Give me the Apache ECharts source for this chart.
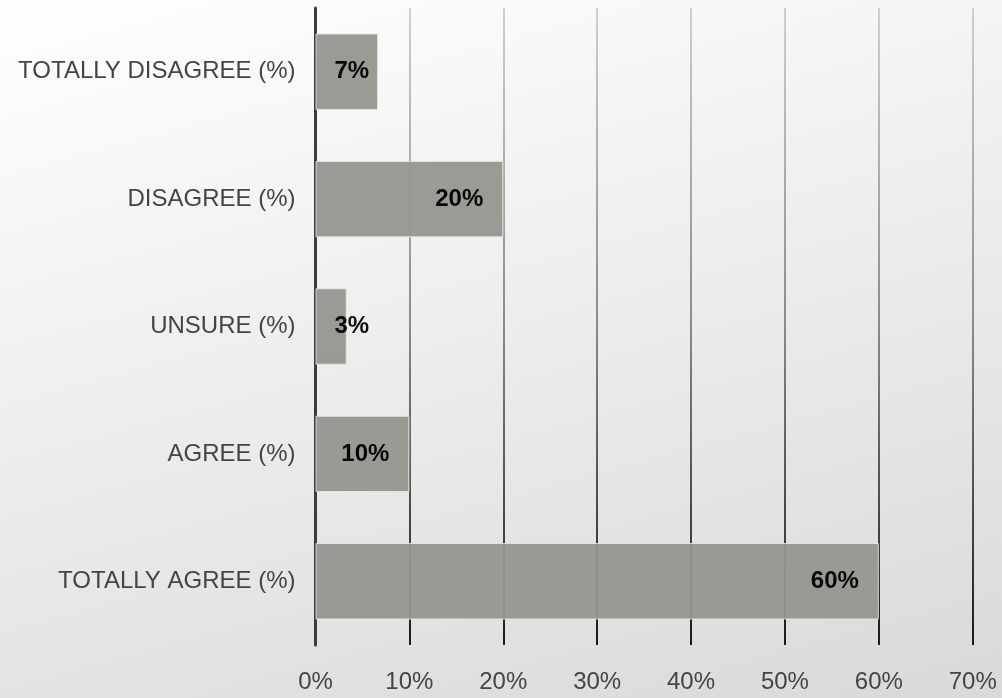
<!DOCTYPE html>
<html>
<head>
<meta charset="utf-8">
<script src="https://cdn.jsdelivr.net/npm/echarts@6/dist/echarts.min.js"></script>
<style>
html, body { margin: 0; padding: 0; }
#main {
    width: 1002px; height: 698px;
    background: linear-gradient(165deg, #ffffff 0%, #eeeeee 45%, #d9d9d9 100%);
}
</style>
</head>
<body>
<div id="main"></div>
<script>
var categories = ['TOTALLY AGREE (%)', 'AGREE (%)', 'UNSURE (%)', 'DISAGREE (%)', 'TOTALLY DISAGREE (%)'];
var percents = [60, 10, 3.33, 20, 6.67];
var xTicks = [0, 10, 20, 30, 40, 50, 60, 70];

var myChart = echarts.init(document.getElementById('main'));
var font = '"Liberation Sans", Arial, sans-serif';

// short bars get their label pushed to the left edge, like excel does
var barData = percents.map(function (v) {
    var small = v < 8;
    return {
        value: v,
        label: {
            position: small ? 'insideLeft' : 'insideRight',
            distance: small ? 19 : 20
        }
    };
});

var option = {
    backgroundColor: 'transparent',
    grid: { left: 315.5, right: 29.3, top: 8, bottom: 53 },
    xAxis: {
        type: 'value',
        min: xTicks[0],
        max: xTicks[xTicks.length - 1],
        interval: 10,
        axisLine: { show: false },
        axisTick: { show: false },
        axisLabel: {
            formatter: '{value}%',
            color: '#444',
            fontFamily: font,
            fontSize: 24,
            margin: 25
        },
        splitLine: {
            show: true,
            lineStyle: {
                width: 2,
                color: new echarts.graphic.LinearGradient(0, 8, 0, 645, [
                    { offset: 0, color: '#cfcfcf' },
                    { offset: 0.5, color: '#8a8a8a' },
                    { offset: 1, color: '#1a1a1a' }
                ], true)
            }
        }
    },
    yAxis: {
        type: 'category',
        data: categories,
        axisTick: { show: false },
        axisLine: { show: true, lineStyle: { color: '#3c3c3c', width: 3 } },
        axisLabel: {
            color: '#444',
            fontFamily: font,
            fontSize: 24,
            margin: 20
        }
    },
    series: [{
        type: 'bar',
        data: barData,
        barCategoryGap: '40%',
        itemStyle: {
            color: '#96968f',
            opacity: 0.95,
            borderColor: 'rgba(235,235,228,0.9)',
            borderWidth: 1
        },
        label: {
            show: true,
            color: '#000',
            fontWeight: 'bold',
            fontFamily: font,
            fontSize: 24,
            formatter: function (p) { return Math.round(p.value) + '%'; }
        },
        z: 1
    }],
    animation: false
};
myChart.setOption(option);
</script>
</body>
</html>
